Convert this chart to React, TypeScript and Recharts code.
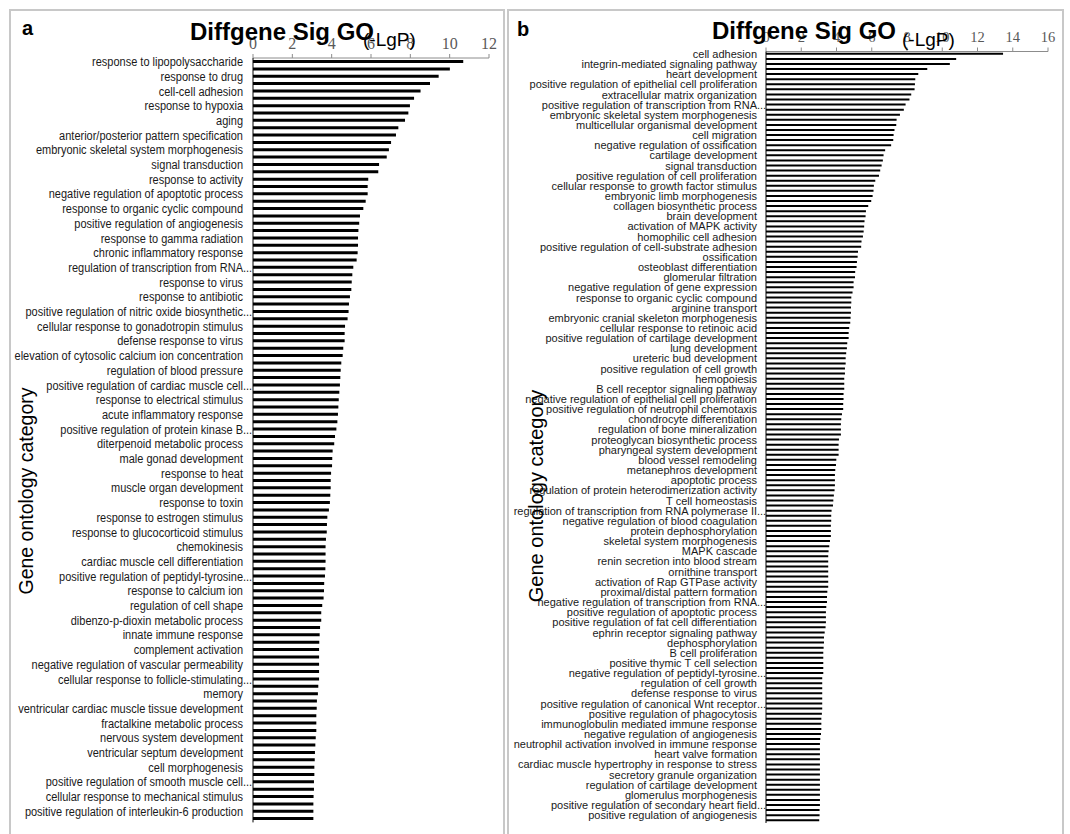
import { Bar, BarChart, XAxis, YAxis } from "recharts";

// panel a: GO terms (only every other bar carries a label, as in the source chart)
const termsA = [
  "response to lipopolysaccharide",
  "response to drug",
  "cell-cell adhesion",
  "response to hypoxia",
  "aging",
  "anterior/posterior pattern specification",
  "embryonic skeletal system morphogenesis",
  "signal transduction",
  "response to activity",
  "negative regulation of apoptotic process",
  "response to organic cyclic compound",
  "positive regulation of angiogenesis",
  "response to gamma radiation",
  "chronic inflammatory response",
  "regulation of transcription from RNA…",
  "response to virus",
  "response to antibiotic",
  "positive regulation of nitric oxide biosynthetic…",
  "cellular response to gonadotropin stimulus",
  "defense response to virus",
  "elevation of cytosolic calcium ion concentration",
  "regulation of blood pressure",
  "positive regulation of cardiac muscle cell…",
  "response to electrical stimulus",
  "acute inflammatory response",
  "positive regulation of protein kinase B…",
  "diterpenoid metabolic process",
  "male gonad development",
  "response to heat",
  "muscle organ development",
  "response to toxin",
  "response to estrogen stimulus",
  "response to glucocorticoid stimulus",
  "chemokinesis",
  "cardiac muscle cell differentiation",
  "positive regulation of peptidyl-tyrosine…",
  "response to calcium ion",
  "regulation of cell shape",
  "dibenzo-p-dioxin metabolic process",
  "innate immune response",
  "complement activation",
  "negative regulation of vascular permeability",
  "cellular response to follicle-stimulating…",
  "memory",
  "ventricular cardiac muscle tissue development",
  "fractalkine metabolic process",
  "nervous system development",
  "ventricular septum development",
  "cell morphogenesis",
  "positive regulation of smooth muscle cell…",
  "cellular response to mechanical stimulus",
  "positive regulation of interleukin-6 production",
];

const lgpA = [
  10.69, 10.01, 9.44, 9.0, 8.52, 8.19, 7.98, 7.9, 7.73, 7.39,
  7.27, 7.02, 6.91, 6.8, 6.41, 6.37, 5.86, 5.83, 5.83, 5.73,
  5.61, 5.44, 5.4, 5.36, 5.34, 5.34, 5.32, 5.27, 5.1, 5.05,
  5.02, 5.0, 4.93, 4.88, 4.86, 4.81, 4.68, 4.66, 4.66, 4.59,
  4.56, 4.49, 4.46, 4.44, 4.42, 4.39, 4.36, 4.34, 4.32, 4.29,
  4.24, 4.17, 4.13, 4.05, 4.03, 4.02, 3.97, 3.95, 3.95, 3.93,
  3.91, 3.86, 3.78, 3.76, 3.75, 3.71, 3.69, 3.69, 3.69, 3.68,
  3.66, 3.62, 3.61, 3.59, 3.52, 3.47, 3.47, 3.41, 3.39, 3.37,
  3.36, 3.36, 3.36, 3.36, 3.36, 3.32, 3.3, 3.25, 3.24, 3.22,
  3.22, 3.22, 3.19, 3.17, 3.15, 3.14, 3.12, 3.12, 3.1, 3.1,
  3.08, 3.07, 3.07, 3.07,
];

const termsB = [
  "cell adhesion",
  "integrin-mediated signaling pathway",
  "heart development",
  "positive regulation of epithelial cell proliferation",
  "extracellular matrix organization",
  "positive regulation of transcription from RNA…",
  "embryonic skeletal system morphogenesis",
  "multicellular organismal development",
  "cell migration",
  "negative regulation of ossification",
  "cartilage development",
  "signal transduction",
  "positive regulation of cell proliferation",
  "cellular response to growth factor stimulus",
  "embryonic limb morphogenesis",
  "collagen biosynthetic process",
  "brain development",
  "activation of MAPK activity",
  "homophilic cell adhesion",
  "positive regulation of cell-substrate adhesion",
  "ossification",
  "osteoblast differentiation",
  "glomerular filtration",
  "negative regulation of gene expression",
  "response to organic cyclic compound",
  "arginine transport",
  "embryonic cranial skeleton morphogenesis",
  "cellular response to retinoic acid",
  "positive regulation of cartilage development",
  "lung development",
  "ureteric bud development",
  "positive regulation of cell growth",
  "hemopoiesis",
  "B cell receptor signaling pathway",
  "negative regulation of epithelial cell proliferation",
  "positive regulation of neutrophil chemotaxis",
  "chondrocyte differentiation",
  "regulation of bone mineralization",
  "proteoglycan biosynthetic process",
  "pharyngeal system development",
  "blood vessel remodeling",
  "metanephros development",
  "apoptotic process",
  "regulation of protein heterodimerization activity",
  "T cell homeostasis",
  "regulation of transcription from RNA polymerase II…",
  "negative regulation of blood coagulation",
  "protein dephosphorylation",
  "skeletal system morphogenesis",
  "MAPK cascade",
  "renin secretion into blood stream",
  "ornithine transport",
  "activation of Rap GTPase activity",
  "proximal/distal pattern formation",
  "negative regulation of transcription from RNA…",
  "positive regulation of apoptotic process",
  "positive regulation of fat cell differentiation",
  "ephrin receptor signaling pathway",
  "dephosphorylation",
  "B cell proliferation",
  "positive thymic T cell selection",
  "negative regulation of peptidyl-tyrosine…",
  "regulation of cell growth",
  "defense response to virus",
  "positive regulation of canonical Wnt receptor…",
  "positive regulation of phagocytosis",
  "immunoglobulin mediated immune response",
  "negative regulation of angiogenesis",
  "neutrophil activation involved in immune response",
  "heart valve formation",
  "cardiac muscle hypertrophy in response to stress",
  "secretory granule organization",
  "regulation of cartilage development",
  "glomerulus morphogenesis",
  "positive regulation of secondary heart field…",
  "positive regulation of angiogenesis",
];

const lgpB = [
  13.45, 10.79, 10.43, 9.15, 8.64, 8.47, 8.45, 8.43, 8.24, 8.14,
  7.92, 7.82, 7.6, 7.41, 7.39, 7.29, 7.24, 7.22, 7.1, 6.76,
  6.67, 6.63, 6.56, 6.48, 6.41, 6.2, 6.12, 6.1, 6.05, 5.97,
  5.8, 5.67, 5.65, 5.59, 5.57, 5.54, 5.5, 5.42, 5.4, 5.22,
  5.2, 5.16, 5.14, 5.06, 5.05, 4.97, 4.97, 4.91, 4.84, 4.84,
  4.82, 4.82, 4.8, 4.78, 4.72, 4.69, 4.69, 4.61, 4.59, 4.55,
  4.52, 4.52, 4.48, 4.48, 4.44, 4.44, 4.44, 4.4, 4.4, 4.38,
  4.38, 4.31, 4.27, 4.25, 4.25, 4.25, 4.14, 4.12, 4.12, 4.12,
  3.99, 3.97, 3.93, 3.91, 3.91, 3.91, 3.89, 3.85, 3.82, 3.8,
  3.72, 3.7, 3.7, 3.68, 3.68, 3.68, 3.63, 3.59, 3.55, 3.53,
  3.53, 3.53, 3.53, 3.53, 3.53, 3.53, 3.48, 3.46, 3.46, 3.42,
  3.4, 3.4, 3.4, 3.38, 3.33, 3.29, 3.29, 3.27, 3.25, 3.25,
  3.25, 3.25, 3.25, 3.19, 3.19, 3.19, 3.19, 3.19, 3.19, 3.19,
  3.17, 3.14, 3.14, 3.14, 3.12, 3.08, 3.06, 3.06, 3.06, 3.06,
  3.06, 3.06, 3.06, 3.06, 3.06, 3.06, 3.06, 3.06, 3.06, 3.04,
  3.04, 3.02,
];

const ticksA = [0, 2, 4, 6, 8, 10, 12];
const ticksB = [0, 2, 4, 6, 8, 10, 12, 14, 16];

const SANS = "Arial, 'Liberation Sans', sans-serif";
const SERIF = "'Times New Roman', 'Liberation Serif', serif";

interface GoRow {
  slot: number;
  term: string;
  lgp: number;
}

const toRows = (terms: string[], values: number[]): GoRow[] =>
  values.map((lgp, slot) => ({
    slot,
    lgp,
    term: slot % 2 === 0 ? terms[slot / 2] ?? "" : "",
  }));

const rowsA = toRows(termsA, lgpA);
const rowsB = toRows(termsB, lgpB);

// right-aligned label; a cut-off label lets its ellipsis run into the gap
const CategoryTick = ({ x, y, payload, rows, stretch }: any) => {
  const name: string = rows[payload.value]?.term ?? "";
  if (!name) return <g />;
  const cut = name.endsWith("…");
  const body = cut ? name.slice(0, -1) : name;
  return (
    <g transform={`translate(${x} ${y}) scale(1 ${stretch})`} fontSize={11} fontFamily={SANS} fill="#1a1a1a">
      <text x={0} y={0} dy="0.35em" textAnchor="end">
        {body}
      </text>
      {cut && (
        <text x={0} y={0} dy="0.35em" textAnchor="start">
          ...
        </text>
      )}
    </g>
  );
};

interface PanelProps {
  rows: GoRow[];
  ticks: number[];
  left: number;
  width: number;
  plotLeft: number;
  plotTop: number;
  right: number;
  bottom: number;
  gap: string;
  tickFont: number;
  tickMargin: number;
  labelGap: number;
  stretch: number;
}

const GoPanel = ({
  rows,
  ticks,
  left,
  width,
  plotLeft,
  plotTop,
  right,
  bottom,
  gap,
  tickFont,
  tickMargin,
  labelGap,
  stretch,
}: PanelProps) => (
  <div style={{ position: "absolute", left, top: 0 }}>
    <BarChart
      width={width}
      height={834}
      data={rows}
      layout="vertical"
      margin={{ top: 0, right, bottom, left: 0 }}
      barCategoryGap={gap}
    >
      <XAxis
        type="number"
        orientation="top"
        domain={[0, ticks[ticks.length - 1]]}
        ticks={ticks}
        interval={0}
        height={plotTop}
        stroke="#8c8c8c"
        tickSize={4}
        tickMargin={tickMargin}
        tick={{ fill: "#595959", fontSize: tickFont, fontFamily: SERIF }}
      />
      <YAxis
        type="category"
        dataKey="slot"
        width={plotLeft}
        interval={0}
        tickLine={false}
        tickSize={0}
        tickMargin={labelGap}
        stroke="#000"
        tick={(p: any) => <CategoryTick {...p} rows={rows} stretch={stretch} />}
      />
      <Bar dataKey="lgp" fill="#000" isAnimationActive={false} />
    </BarChart>
  </div>
);

const App = () => {
  return (
    <div
      style={{
        position: "absolute",
        left: 0,
        top: 0,
        width: 1070,
        height: 834,
        overflow: "hidden",
        background: "#fff",
      }}
    >
      <div
        style={{
          position: "absolute",
          left: 9,
          top: 9,
          width: 496,
          height: 840,
          border: "2px solid #c8c8c8",
          boxSizing: "border-box",
        }}
      />
      <div
        style={{
          position: "absolute",
          left: 507,
          top: 9,
          width: 557,
          height: 840,
          border: "2px solid #c8c8c8",
          boxSizing: "border-box",
        }}
      />
      <GoPanel
        rows={rowsA}
        ticks={ticksA}
        left={0}
        width={505}
        plotLeft={253}
        plotTop={58}
        right={16}
        bottom={11.6}
        gap="28%"
        tickFont={16}
        tickMargin={5}
        labelGap={10}
        stretch={1.15}
      />
      <GoPanel
        rows={rowsB}
        ticks={ticksB}
        left={505}
        width={565}
        plotLeft={261}
        plotTop={51.5}
        right={22}
        bottom={11}
        gap="26%"
        tickFont={14.5}
        tickMargin={6}
        labelGap={9}
        stretch={1}
      />
      <svg
        width={1070}
        height={834}
        style={{ position: "absolute", left: 0, top: 0, pointerEvents: "none" }}
      >
        <g fontFamily={SANS} fill="#000">
          <text x={22} y={35} fontSize={20} fontWeight="bold">a</text>
          <text x={517} y={36} fontSize={20} fontWeight="bold">b</text>
          <text x={190} y={40} fontSize={24} fontWeight="bold">Diffgene Sig GO</text>
          <text x={712} y={39} fontSize={24} fontWeight="bold">Diffgene Sig GO</text>
          <text x={363} y={46} fontSize={19}>(-LgP)</text>
          <text x={902} y={46} fontSize={19}>(-LgP)</text>
          <text x={33} y={491} fontSize={19.5} textAnchor="middle" transform="rotate(-90 33 491)">
            Gene ontology category
          </text>
          <text x={543} y={496} fontSize={20} textAnchor="middle" transform="rotate(-90 543 496)">
            Gene ontology category
          </text>
        </g>
      </svg>
    </div>
  );
};

export default App;
